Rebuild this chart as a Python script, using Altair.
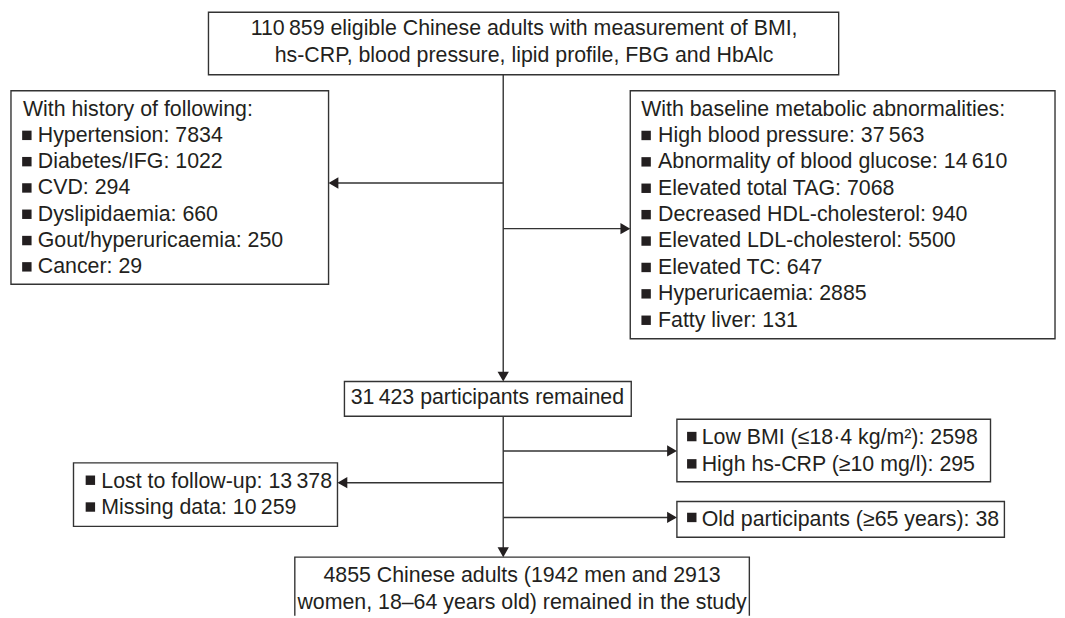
import altair as alt
import pandas as pd

THIN = "\u2009"


def fmt(n):
    s = str(n)
    if n >= 10000:
        s = s[:-3] + THIN + s[-3:]
    return s


# ---------------- data ----------------
top_lines = [
    fmt(110859) + " eligible Chinese adults with measurement of BMI,",
    "hs-CRP, blood pressure, lipid profile, FBG and HbAlc",
]
history_title = "With history of following:"
history_labels = ["Hypertension", "Diabetes/IFG", "CVD", "Dyslipidaemia",
                  "Gout/hyperuricaemia", "Cancer"]
history_counts = [7834, 1022, 294, 660, 250, 29]

metabolic_title = "With baseline metabolic abnormalities:"
metabolic_labels = ["High blood pressure", "Abnormality of blood glucose",
                    "Elevated total TAG", "Decreased HDL-cholesterol",
                    "Elevated LDL-cholesterol", "Elevated TC", "Hyperuricaemia",
                    "Fatty liver"]
metabolic_counts = [37563, 14610, 7068, 940, 5500, 647, 2885, 131]

remained_count = 31423
remained_label = "participants remained"

excl_labels = ["Low BMI (\u226418\u00b74 kg/m\u00b2)", "High hs-CRP (\u226510 mg/l)"]
excl_counts = [2598, 295]

followup_labels = ["Lost to follow-up", "Missing data"]
followup_counts = [13378, 10259]

age_labels = ["Old participants (\u226565 years)"]
age_counts = [38]

final_lines = ["4855 Chinese adults (1942 men and 2913",
               "women, 18\u201364 years old) remained in the study"]

# ---------------- layout (page pixel units) ----------------
W, H = 1065, 618
M = 8
MAIN_X = 507

boxes = [
    (210, 845, 10, 73),     # top
    (11, 331, 89, 284),     # history
    (635, 1063, 89, 339),   # metabolic
    (347, 636, 382, 417),   # remained
    (682, 998, 420, 483),   # low BMI / hs-CRP
    (74, 340, 464, 528),    # follow-up
    (682, 1012, 503, 539),  # age
    (297, 755, 559, 650),   # final (cut at bottom)
]
box_df = pd.DataFrame(boxes, columns=["x", "x2", "y", "y2"])

rules = [
    (MAIN_X, MAIN_X, 73, 380),
    (MAIN_X, MAIN_X, 417, 557),
    (333, MAIN_X, 182, 182),
    (MAIN_X, 633, 228, 228),
    (MAIN_X, 680, 452, 452),
    (342, MAIN_X, 484, 484),
    (MAIN_X, 680, 519, 519),
]
rule_df = pd.DataFrame(rules, columns=["x", "x2", "y", "y2"])

AS = 130
AH = 0.866 * (AS ** 0.5) / 2
arrows = [
    (MAIN_X, 382 - AH, "triangle-down"),
    (MAIN_X, 559 - AH, "triangle-down"),
    (331 + AH, 182, "triangle-left"),
    (340 + AH, 484, "triangle-left"),
    (635 - AH, 228, "triangle-right"),
    (682 - AH, 452, "triangle-right"),
    (682 - AH, 519, "triangle-right"),
]
arrow_df = pd.DataFrame(arrows, columns=["x", "y", "shape"])

left_text = []
bullets = []

# history box
left_text.append((23, 108, history_title))
for i, (lab, c) in enumerate(zip(history_labels, history_counts)):
    y = 108 + 26.5 * (i + 1)
    left_text.append((38, y, f"{lab}: {fmt(c)}"))
    bullets.append((27, y - 0.5))

# metabolic box
left_text.append((646, 108, metabolic_title))
for i, (lab, c) in enumerate(zip(metabolic_labels, metabolic_counts)):
    y = 108 + 26.6 * (i + 1)
    left_text.append((663, y, f"{lab}: {fmt(c)}"))
    bullets.append((651, y - 0.5))

# exclusions after remained
for i, (lab, c) in enumerate(zip(excl_labels, excl_counts)):
    y = 439 + 27.5 * i
    left_text.append((707, y, f"{lab}: {fmt(c)}"))
    bullets.append((697, y - 1.5))

for i, (lab, c) in enumerate(zip(followup_labels, followup_counts)):
    y = 483 + 27 * i
    left_text.append((102, y, f"{lab}: {fmt(c)}"))
    bullets.append((91, y - 1.5))

for i, (lab, c) in enumerate(zip(age_labels, age_counts)):
    y = 522
    left_text.append((707, y, f"{lab}: {fmt(c)}"))
    bullets.append((697, y - 3))

left_df = pd.DataFrame(left_text, columns=["x", "y", "t"])
bullet_df = pd.DataFrame(bullets, columns=["x", "y"])

center_text = [
    (528, 27, top_lines[0]),
    (528, 54, top_lines[1]),
    (491, 399, f"{fmt(remained_count)} {remained_label}"),
    (526, 578, final_lines[0]),
    (526, 605, final_lines[1]),
]
center_df = pd.DataFrame(center_text, columns=["x", "y", "t"])

# ---------------- chart ----------------
xs = alt.Scale(domain=[M, W], range=[0, W - M], nice=False, zero=False)
ys = alt.Scale(domain=[M, H], range=[0, H - M], nice=False, zero=False)

X = lambda f="x": alt.X(f"{f}:Q", scale=xs, axis=None)
Y = lambda f="y": alt.Y(f"{f}:Q", scale=ys, axis=None)

INK = "#231f20"
LINE = "#333333"
FONT = "Liberation Sans"
FS = 21.5

rects = alt.Chart(box_df).mark_rect(
    fill="white", stroke=LINE, strokeWidth=1.4, clip=True
).encode(x=X(), x2="x2:Q", y=Y(), y2="y2:Q")

rule_layer = alt.Chart(rule_df).mark_rule(
    color=LINE, strokeWidth=1.4
).encode(x=X(), x2="x2:Q", y=Y(), y2="y2:Q")

arrow_layer = alt.Chart(arrow_df).mark_point(
    filled=True, size=AS, color=INK, opacity=1
).encode(x=X(), y=Y(), shape=alt.Shape("shape:N", scale=None, legend=None))

bullet_layer = alt.Chart(bullet_df).mark_square(
    size=90, color=INK, opacity=1
).encode(x=X(), y=Y())

ltext = alt.Chart(left_df).mark_text(
    align="left", baseline="middle", font=FONT, fontSize=FS, color=INK
).encode(x=X(), y=Y(), text="t:N")

ctext = alt.Chart(center_df).mark_text(
    align="center", baseline="middle", font=FONT, fontSize=FS, color=INK
).encode(x=X(), y=Y(), text="t:N")

chart = alt.layer(
    rects, rule_layer, arrow_layer, bullet_layer, ltext, ctext
).properties(
    width=W - M, height=H - M, padding=0, autosize="none", background="white"
).configure_view(stroke=None)

chart.save("out.html", embed_options={"renderer": "svg", "actions": False})
